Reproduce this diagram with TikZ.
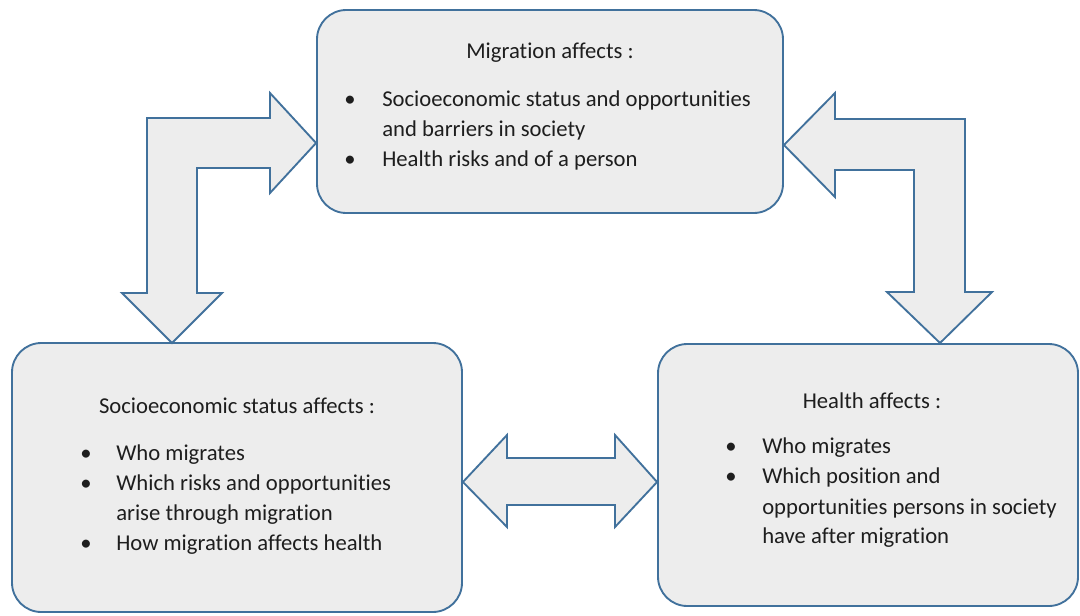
\documentclass[tikz,border=0pt]{standalone}
\usepackage{fontspec}
\setmainfont[Ligatures=NoCommon]{Carlito}
\usetikzlibrary{fit}
\definecolor{edge}{HTML}{41719C}
\definecolor{boxfill}{HTML}{EDEDED}
\definecolor{txt}{HTML}{1E1E1E}
\begin{document}
\begin{tikzpicture}[x=0.75pt,y=-0.75pt,
  card/.style={draw=edge, fill=boxfill, line width=1.4pt, rounded corners=22pt, inner sep=0pt},
  blockarrow/.style={draw=edge, fill=boxfill, line width=1.4pt, line join=miter},
  ttl/.style={font=\fontsize{17}{20}\selectfont, text=txt, anchor=mid, inner sep=0pt},
  item/.style={font=\fontsize{17}{20}\selectfont, text=txt, anchor=mid west, inner sep=0pt},
  dot/.style={font=\fontsize{17}{20}\selectfont, text=txt, anchor=mid, inner sep=0pt}]
\useasboundingbox (0,0) rectangle (1080,615);

% boxes
\node[card, fit={(317,10) (783,213)}] (mig) {};
\node[card, fit={(12,343) (462,612)}] (ses) {};
\node[card, fit={(658,344) (1078,606)}] (hea) {};

% left bent double arrow (top box <-> socioeconomic box)
\draw[blockarrow] (mig.west |- 0,143) coordinate (lt)
  -- (270,93) -- (270,118) -- (147,118) -- (147,293) -- (122,293)
  -- (172,343) coordinate (lb)
  -- (222,293) -- (197,293) -- (197,168) -- (270,168) -- (270,193) -- cycle;

% right bent double arrow (top box <-> health box)
\draw[blockarrow] (mig.east |- 0,145) coordinate (rt)
  -- (835,93) -- (835,119) -- (965,119) -- (965,292) -- (992,292)
  -- (940,343) coordinate (rb)
  -- (887,292) -- (914,292) -- (914,170) -- (835,170) -- (835,197) -- cycle;

% horizontal double arrow (socioeconomic box <-> health box)
\draw[blockarrow] (ses.east |- 0,482) coordinate (ml)
  -- (507,435) -- (507,458) -- (615,458) -- (615,435)
  -- (hea.west |- 0,482) coordinate (mr)
  -- (615,527) -- (615,505) -- (507,505) -- (507,527) -- cycle;

% top box text
\node[ttl] (migt) at (550,55) {Migration affects :};
\node[dot] (m1d) at (350,103) {\textbullet};
\node[item] (m1) at (382,103) {Socioeconomic status and opportunities};
\node[item] (m2) at (382,133) {and barriers in society};
\node[dot] (m3d) at (350,163) {\textbullet};
\node[item] (m3) at (382,163) {Health risks and of a person};

% socioeconomic box text
\node[ttl] (sest) at (237,410) {Socioeconomic status affects :};
\node[dot] (s1d) at (86,457) {\textbullet};
\node[item] (s1) at (116,457) {Who migrates};
\node[dot] (s2d) at (86,487) {\textbullet};
\node[item] (s2) at (116,487) {Which risks and opportunities};
\node[item] (s3) at (116,517) {arise through migration};
\node[dot] (s4d) at (86,547) {\textbullet};
\node[item] (s4) at (116,547) {How migration affects health};

% health box text
\node[ttl] (heat) at (872,405) {Health affects :};
\node[dot] (h1d) at (731,450) {\textbullet};
\node[item] (h1) at (762,450) {Who migrates};
\node[dot] (h2d) at (731,480) {\textbullet};
\node[item] (h2) at (762,480) {Which position and};
\node[item] (h3) at (762,511) {opportunities persons in society};
\node[item] (h4) at (762,540) {have after migration};
\end{tikzpicture}
\end{document}
